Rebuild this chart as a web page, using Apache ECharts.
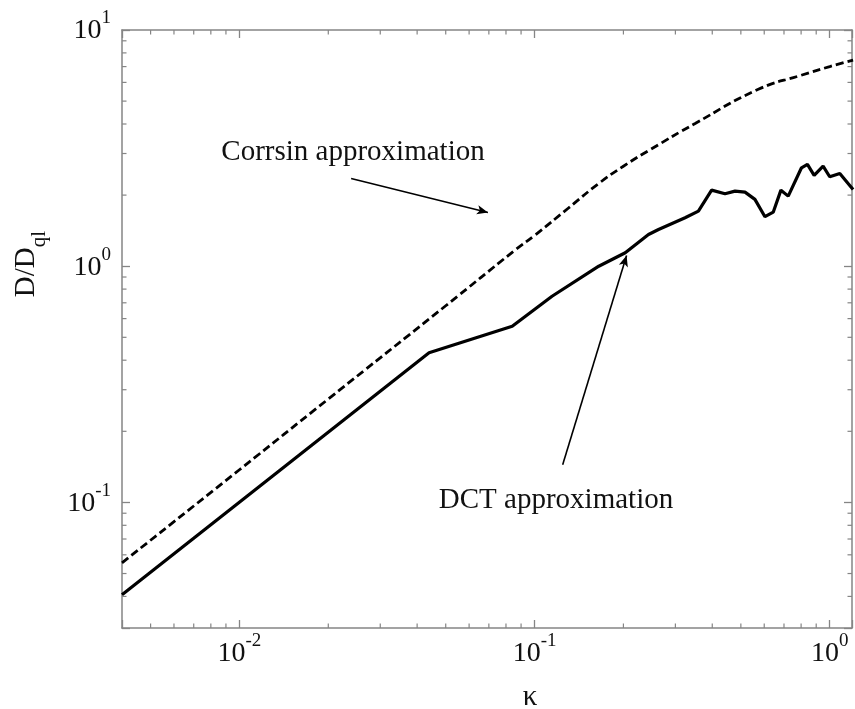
<!DOCTYPE html>
<html>
<head>
<meta charset="utf-8">
<script src="https://cdn.jsdelivr.net/npm/echarts@6/dist/echarts.min.js"></script>
<style>
html, body { margin: 0; padding: 0; background: #fff; }
#chart { width: 855px; height: 709px; }
</style>
</head>
<body>
<div id="chart"></div>
<script>
// Corrsin approximation (dashed)
const kappaCorrsin = [0.004, 0.01, 0.02, 0.05, 0.0864, 0.1, 0.13, 0.165, 0.2, 0.247, 0.35, 0.573, 0.8, 1.0, 1.2];
const dCorrsin = [0.0555, 0.1375, 0.274, 0.68, 1.177, 1.35, 1.76, 2.24, 2.65, 3.12, 4.02, 5.61, 6.43, 7.0, 7.45];

// DCT approximation (solid)
const kappaDct = [0.004, 0.0439, 0.084, 0.1146, 0.165, 0.2029, 0.2432, 0.263, 0.3236, 0.359, 0.398, 0.4418, 0.4777,
    0.5164, 0.558, 0.6034, 0.6436, 0.6835, 0.7235, 0.8024, 0.8406, 0.8857, 0.9499, 1.0, 1.082, 1.2];
const dDct = [0.0407, 0.430, 0.557, 0.746, 1.0, 1.14, 1.362, 1.43, 1.604, 1.711, 2.099, 2.027, 2.079,
    2.059, 1.918, 1.620, 1.693, 2.099, 1.98, 2.61, 2.697, 2.423, 2.653, 2.392, 2.471, 2.11];

// arrows: [kappa, D] start -> end
const arrowCorrsin = [[0.0239, 2.353], [0.0695, 1.688]];
const arrowDct = [[0.1245, 0.1444], [0.205, 1.11]];

// minor ticks (log decades)
const xMinorTicks = [0.005, 0.006, 0.007, 0.008, 0.009, 0.02, 0.03, 0.04, 0.05, 0.06, 0.07, 0.08, 0.09,
    0.2, 0.3, 0.4, 0.5, 0.6, 0.7, 0.8, 0.9];
const yMinorTicks = [0.04, 0.05, 0.06, 0.07, 0.08, 0.09, 0.2, 0.3, 0.4, 0.5, 0.6, 0.7, 0.8, 0.9,
    2, 3, 4, 5, 6, 7, 8, 9];

const xRange = [0.004, 1.19];
const yRange = [0.0294, 10];

const serif = '"Liberation Serif", "DejaVu Serif", serif';
const axisColor = '#858585';

function zip(a, b) {
    return a.map((v, i) => [v, b[i]]);
}

function powLabel(v) {
    const l = Math.log10(v);
    const e = Math.round(l);
    if (Math.abs(l - e) > 1e-6) return '';
    return '{b|10}{s|' + e + '}';
}

const labelRich = {
    b: { fontFamily: serif, fontSize: 28, color: '#111', lineHeight: 30, verticalAlign: 'bottom' },
    s: { fontFamily: serif, fontSize: 19, color: '#111', lineHeight: 19, padding: [0, 0, 17, 0], verticalAlign: 'bottom' }
};

function logAxis(range, pos, showLabel) {
    return {
        type: 'log',
        logBase: 10,
        min: range[0],
        max: range[1],
        position: pos,
        axisLine: { show: true, onZero: false, lineStyle: { color: axisColor, width: 1.5 } },
        axisTick: { show: true, inside: true, length: 8, lineStyle: { color: axisColor, width: 1.3 } },
        axisLabel: { show: showLabel, formatter: powLabel, rich: labelRich, margin: 10 },
        splitLine: { show: false },
        minorTick: { show: false }
    };
}

function minorTicks(isX) {
    return function (params, api) {
        const cs = params.coordSys;
        const len = 4.5;
        const style = { stroke: axisColor, lineWidth: 1.2 };
        if (isX) {
            const x = api.coord([api.value(0), yRange[0]])[0];
            return {
                type: 'group', children: [
                    { type: 'line', shape: { x1: x, y1: cs.y + cs.height, x2: x, y2: cs.y + cs.height - len }, style: style },
                    { type: 'line', shape: { x1: x, y1: cs.y, x2: x, y2: cs.y + len }, style: style }
                ]
            };
        }
        const y = api.coord([xRange[0], api.value(1)])[1];
        return {
            type: 'group', children: [
                { type: 'line', shape: { x1: cs.x, y1: y, x2: cs.x + len, y2: y }, style: style },
                { type: 'line', shape: { x1: cs.x + cs.width, y1: y, x2: cs.x + cs.width - len, y2: y }, style: style }
            ]
        };
    };
}

function arrow(a) {
    return [{ coord: a[0], symbol: 'none' }, { coord: a[1], symbol: 'arrow' }];
}

const chart = echarts.init(document.getElementById('chart'));
const xAxisBottom = logAxis(xRange, 'bottom', true);
const yAxisLeft = logAxis(yRange, 'left', true);
yAxisLeft.axisLabel.margin = 11;

const option = {
    animation: false,
    backgroundColor: '#fff',
    grid: { left: 122, right: 2, top: 30, bottom: 81 },
    xAxis: [xAxisBottom, logAxis(xRange, 'top', false)],
    yAxis: [yAxisLeft, logAxis(yRange, 'right', false)],
    series: [
        {
            name: 'Corrsin approximation',
            type: 'line',
            data: zip(kappaCorrsin, dCorrsin),
            showSymbol: false,
            smooth: 0.5,
            clip: true,
            lineStyle: { color: '#000', width: 2.8, type: [8, 4] },
            markLine: {
                silent: true,
                symbolSize: [7, 11],
                label: { show: false },
                lineStyle: { color: '#000', width: 1.6, type: 'solid' },
                data: [arrow(arrowCorrsin)]
            }
        },
        {
            name: 'DCT approximation',
            type: 'line',
            data: zip(kappaDct, dDct),
            showSymbol: false,
            clip: true,
            lineStyle: { color: '#000', width: 3.2 },
            markLine: {
                silent: true,
                symbolSize: [7, 11],
                label: { show: false },
                lineStyle: { color: '#000', width: 1.6, type: 'solid' },
                data: [arrow(arrowDct)]
            }
        },
        {
            type: 'custom',
            silent: true,
            renderItem: minorTicks(true),
            data: xMinorTicks.map(v => [v, yRange[0]]),
            z: 5
        },
        {
            type: 'custom',
            silent: true,
            renderItem: minorTicks(false),
            data: yMinorTicks.map(v => [xRange[0], v]),
            z: 5
        }
    ],
    graphic: [
        {
            type: 'text', x: 353, y: 152,
            style: { text: 'Corrsin approximation', font: '29px ' + serif, fill: '#111', align: 'center', verticalAlign: 'middle' }
        },
        {
            type: 'text', x: 556, y: 500,
            style: { text: 'DCT approximation', font: '29px ' + serif, fill: '#111', align: 'center', verticalAlign: 'middle' }
        },
        {
            type: 'text', x: 530, y: 697,
            style: { text: 'κ', font: '29px ' + serif, fill: '#111', align: 'center', verticalAlign: 'middle' }
        },
        {
            type: 'text', x: 27, y: 264, rotation: Math.PI / 2,
            style: {
                text: '{m|D/D}{q|ql}',
                align: 'center', verticalAlign: 'middle',
                rich: {
                    m: { fontFamily: serif, fontSize: 29, fill: '#111', lineHeight: 30, verticalAlign: 'top' },
                    q: { fontFamily: serif, fontSize: 21, fill: '#111', lineHeight: 21, padding: [17, 0, 0, 0], verticalAlign: 'top' }
                }
            }
        }
    ]
};
chart.setOption(option);
</script>
</body>
</html>
